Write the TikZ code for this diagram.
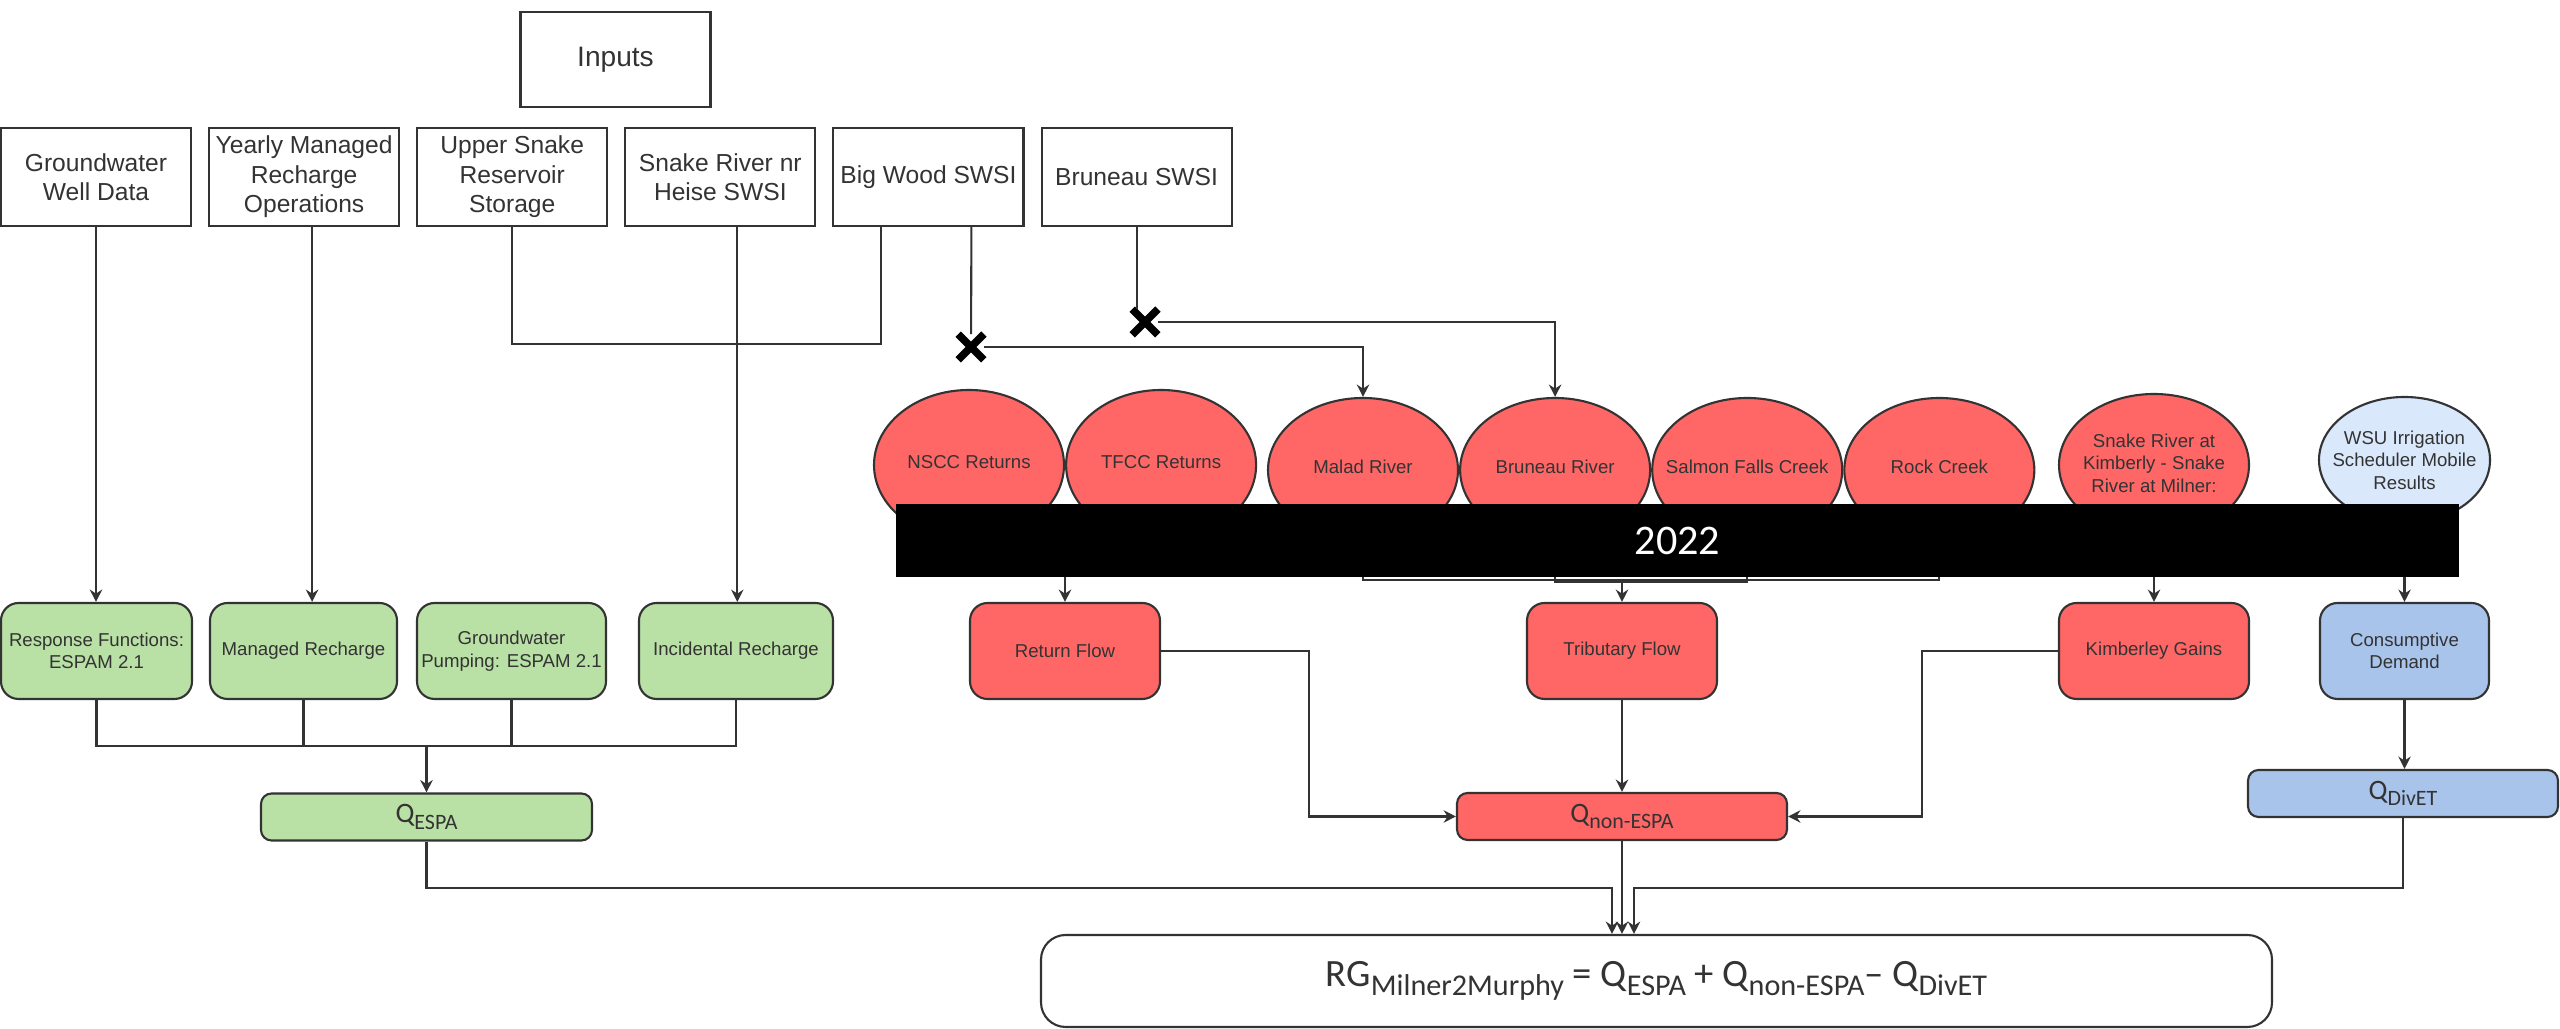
\documentclass[tikz,border=0pt]{standalone}
\usepackage{fontspec}
\setmainfont{Liberation Sans}
\newfontfamily\calib{Carlito}
\usetikzlibrary{positioning, arrows.meta, shapes.geometric, shapes.misc}

\definecolor{rivred}{HTML}{FF6666}
\definecolor{gwgreen}{HTML}{B9E0A5}
\definecolor{dtblue}{HTML}{A9C4EB}
\definecolor{wsublue}{HTML}{DAE8FC}
\definecolor{wirec}{HTML}{333333}

\newcommand{\qsub}[2]{#1\raisebox{-0.5ex}{\scalebox{0.78}{#2}}}

\begin{document}
\begin{tikzpicture}[
    color=wirec,
    line width=0.6pt,
    inbox/.style={rectangle, draw=wirec, fill=white, minimum width=1.9cm, minimum height=0.98cm, align=center, inner sep=1pt, font=\fontsize{7}{8.4}\selectfont},
    card/.style={rectangle, draw=wirec, rounded corners=5pt, minimum height=0.96cm, align=center, inner sep=1pt, font=\fontsize{5.3}{6.4}\selectfont, fill=#1},
    card/.default=gwgreen,
    qbox/.style={rectangle, draw=wirec, rounded corners=3pt, minimum height=0.47cm, inner sep=1pt, font=\calib\fontsize{8}{9.6}\selectfont, fill=#1},
    qbox/.default=gwgreen,
    riv/.style={ellipse, draw=wirec, minimum width=1.9cm, minimum height=1.44cm, inner sep=0pt, fill=#1},
    riv/.default=rivred,
    rivtxt/.style={align=center, inner sep=0pt, font=\fontsize{5.3}{6.4}\selectfont},
    cut/.style={cross out, draw=black, line width=2.2pt, minimum size=0.18cm, inner sep=0pt},
    arr/.style={-{Stealth[length=3.5pt, width=3.5pt]}},
]
    \useasboundingbox (0,0) rectangle (25.6,-10.29);

    % data sources
    \node[inbox, minimum height=0.95cm, font=\fontsize{8}{9.6}\selectfont] (inputs) at (6.155,-0.595) {Inputs};
    \node[inbox] (gwell) at (0.96,-1.77) {Groundwater\\Well Data};
    \node[inbox, right=0.16cm of gwell] (yearly) {Yearly Managed\\Recharge\\Operations};
    \node[inbox, right=0.16cm of yearly] (usnake) {Upper Snake\\Reservoir\\Storage};
    \node[inbox, right=0.16cm of usnake] (heise) {Snake River nr\\Heise SWSI};
    \node[inbox, right=0.16cm of heise] (bigwood) {Big Wood SWSI};
    \node[inbox, right=0.16cm of bigwood] (bruneau) {Bruneau SWSI};

    % ESPA side
    \node[card, minimum width=1.91cm] (resp) at (0.965,-6.51) {Response Functions:\\ESPAM 2.1};
    \node[card, minimum width=1.87cm] (manrech) at (3.035,-6.51) {Managed Recharge};
    \node[card, minimum width=1.89cm] (gwpump) at (5.115,-6.51) {Groundwater\\Pumping: ESPAM 2.1};
    \node[card, minimum width=1.94cm] (incid) at (7.36,-6.51) {Incidental Recharge};
    \node[qbox, minimum width=3.31cm] (qespa) at (4.265,-8.17) {\qsub{Q}{ESPA}};

    % rivers and gauges
    \node[riv, minimum height=1.5cm] (nscc) at (9.69,-4.65) {};
    \node[riv, minimum height=1.5cm, right=0cm of nscc] (tfcc) {};
    \node[riv] (malad) at (13.63,-4.70) {};
    \node[riv, right=0cm of malad] (brriver) {};
    \node[riv, right=0cm of brriver] (salmon) {};
    \node[riv, right=0cm of salmon] (rock) {};
    \node[riv, minimum height=1.42cm] (kimb) at (21.54,-4.65) {};
    \node[riv=wsublue, minimum width=1.71cm, minimum height=1.26cm] (wsu) at (24.045,-4.60) {};

    \node[rivtxt] (nscctxt) at ([yshift=0.03cm]nscc.center) {NSCC Returns};
    \node[rivtxt] (tfcctxt) at ([yshift=0.03cm]tfcc.center) {TFCC Returns};
    \node[rivtxt] (maladtxt) at ([yshift=0.03cm]malad.center) {Malad River};
    \node[rivtxt] (brrivertxt) at ([yshift=0.03cm]brriver.center) {Bruneau River};
    \node[rivtxt] (salmontxt) at ([yshift=0.03cm]salmon.center) {Salmon Falls Creek};
    \node[rivtxt] (rocktxt) at ([yshift=0.03cm]rock.center) {Rock Creek};
    \node[rivtxt] (kimbtxt) at ([yshift=0.02cm]kimb.center) {Snake River at\\Kimberly - Snake\\River at Milner:};
    \node[rivtxt] (wsutxt) at (wsu.center) {WSU Irrigation\\Scheduler Mobile\\Results};

    % non-ESPA side
    \node[card=rivred, minimum width=1.9cm] (retflow) at (10.65,-6.51) {Return Flow};
    \node[card=rivred, minimum width=1.9cm] (tribflow) at (16.22,-6.51) {Tributary Flow};
    \node[card=rivred, minimum width=1.9cm] (kgains) at (21.54,-6.51) {Kimberley Gains};
    \node[card=dtblue, minimum width=1.69cm] (consdem) at (24.045,-6.51) {Consumptive\\Demand};
    \node[qbox=rivred, minimum width=3.3cm] (qnon) at (16.22,-8.165) {\qsub{Q}{non-ESPA}};
    \node[qbox=dtblue, minimum width=3.1cm] (qdivet) at (24.03,-7.935) {\qsub{Q}{DivET}};

    % balance
    \node[draw=wirec, rounded corners=7pt, minimum width=12.31cm, minimum height=0.92cm, font=\calib\fontsize{11}{13}\selectfont] (rg) at (16.565,-9.81) {\qsub{RG}{Milner2Murphy} = \qsub{Q}{ESPA} + \qsub{Q}{non-ESPA}\textendash{} \qsub{Q}{DivET}};

    % cut links
    \node[cut] (cutbw) at (9.71,-3.47) {};
    \node[cut] (cutbr) at (11.45,-3.22) {};

    \coordinate (bwl) at ([xshift=-0.47cm]bigwood.south);
    \coordinate (bwr) at ([xshift=0.43cm]bigwood.south);

    \draw[arr] (gwell.south) -- (gwell.south |- resp.north);
    \draw[arr] ([xshift=0.08cm]yearly.south) -- ([xshift=0.08cm]yearly.south |- manrech.north);
    \draw[arr] ([xshift=0.17cm]heise.south) -- ([xshift=0.17cm]heise.south |- incid.north);
    \draw (usnake.south) -- ++(0,-1.17) -| (bwl);
    \draw (bwr) -- (cutbw);
    \draw[arr] (cutbw) -| (malad.north);
    \draw (bruneau.south) -- (bruneau.south |- cutbr.north);
    \draw[arr] (cutbr) -| (brriver.north);

    % under the bar
    \coordinate (rfjoin) at (10.65,-5.6);
    \coordinate (tfjoin) at (16.22,-5.80);
    \draw (nscc.south) |- (rfjoin);
    \draw (tfcc.south) |- (rfjoin);
    \draw[arr] (rfjoin) -- (retflow.north);
    \draw (malad.south) |- (tfjoin);
    \draw (brriver.south) |- ([yshift=-0.02cm]tfjoin);
    \draw (salmon.south) |- ([yshift=-0.02cm]tfjoin);
    \draw (rock.south) |- (tfjoin);
    \draw[arr] (tfjoin) -- (tribflow.north);
    \draw[arr] (kimb) -- (kgains);
    \draw[arr] (wsu.south) -- (wsu.south |- consdem.north);

    \node[fill=black, minimum width=15.63cm, minimum height=0.73cm, inner sep=0pt, text=white, font=\calib\fontsize{12}{14}\selectfont] (bar) at (16.775,-5.405) {2022};

    % to the Q terms
    \coordinate (espajoin) at (4.265,-7.46);
    \draw (resp.south) |- (espajoin);
    \draw (incid.south) |- (espajoin);
    \draw (manrech.south) -- (manrech.south |- espajoin);
    \draw (gwpump.south) -- (gwpump.south |- espajoin);
    \draw[arr] (espajoin) -- (qespa.north);
    \draw[arr] (retflow.east) -- ++(1.48,0) |- (qnon.west);
    \draw[arr] (tribflow) -- (qnon);
    \draw[arr] (kgains.west) -- ++(-1.36,0) |- (qnon.east);
    \draw[arr] (consdem.south) -- (consdem.south |- qdivet.north);

    \coordinate (rgl) at (16.12,-8.88);
    \coordinate (rgr) at (16.34,-8.88);
    \draw[arr] (qespa.south) |- (rgl) -- (rgl |- rg.north);
    \draw[arr] (qnon.south) -- (qnon.south |- rg.north);
    \draw[arr] (qdivet.south) |- (rgr) -- (rgr |- rg.north);
\end{tikzpicture}
\end{document}
